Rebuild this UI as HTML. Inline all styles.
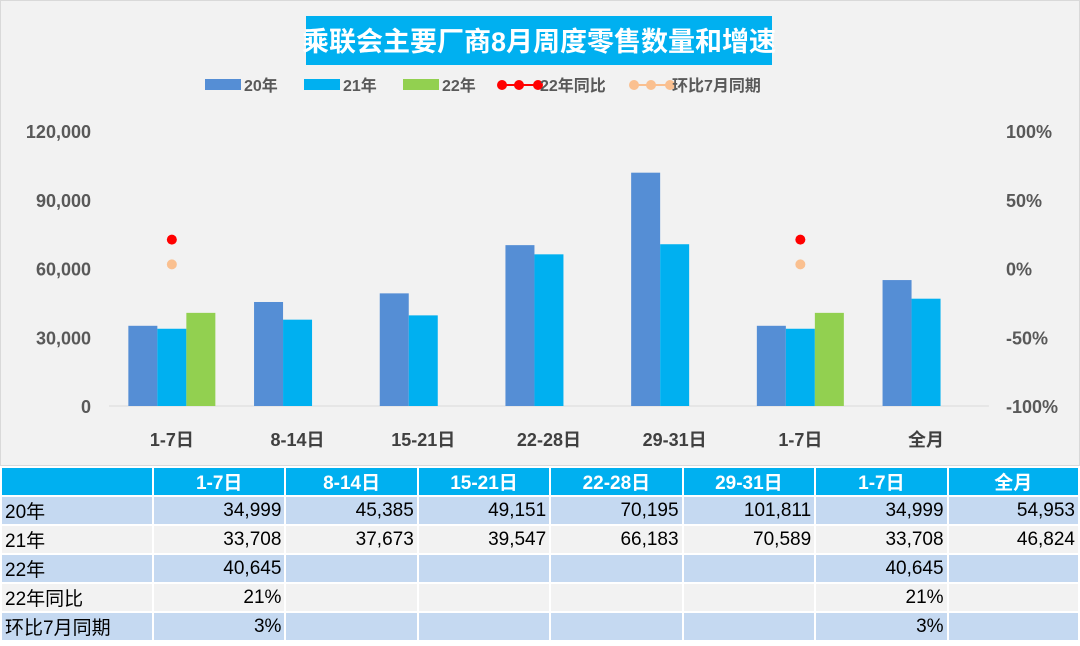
<!DOCTYPE html>
<html><head><meta charset="utf-8"><style>
body{margin:0;width:1080px;height:646px;background:#fff;font-family:"Liberation Sans","Noto Sans CJK SC",sans-serif;overflow:hidden}
#chart{position:absolute;left:0;top:0;width:1078px;height:464px;background:#f2f2f2;border:1px solid #d9d9d9}
table{position:absolute;left:0;top:466px;border-collapse:collapse;font-size:19px}
td{border:2px solid #fff;height:26px;padding:0 3px;text-align:right;color:#000}
tr.h td{background:#00b0f0;color:#fff;font-weight:bold;text-align:center}
tr.b td{background:#c5d9f1}
tr.g td{background:#f2f2f2}
td.l{text-align:left}
</style></head><body>
<svg id="chart" width="1080" height="465" xmlns="http://www.w3.org/2000/svg">
<rect x="305" y="15" width="466" height="49" fill="#00b0f0"/>
<text x="538" y="50" text-anchor="middle" font-size="27" font-weight="bold" fill="#fff" font-family="Liberation Sans,Noto Sans CJK SC,sans-serif">乘联会主要厂商8月周度零售数量和增速</text>
<g id="legend" font-size="16" font-weight="bold" fill="#595959" font-family="Liberation Sans,Noto Sans CJK SC,sans-serif">
<g><rect x="204" y="78" width="36" height="11" fill="#558ed5"/><text x="243" y="90">20年</text></g>
<g><rect x="303" y="78" width="36" height="11" fill="#00b0f0"/><text x="342" y="90">21年</text></g>
<g><rect x="402" y="78" width="36" height="11" fill="#92d050"/><text x="441" y="90">22年</text></g>
<g><line x1="500" y1="84" x2="540" y2="84" stroke="#f00" stroke-width="2"/><circle cx="501" cy="84" r="5" fill="#f00"/><circle cx="518" cy="84" r="5" fill="#f00"/><circle cx="537" cy="84" r="5" fill="#f00"/><text x="539" y="90">22年同比</text></g>
<g><line x1="632" y1="84" x2="671" y2="84" stroke="#fac090" stroke-width="2"/><circle cx="633" cy="84" r="5" fill="#fac090"/><circle cx="650" cy="84" r="5" fill="#fac090"/><circle cx="669" cy="84" r="5" fill="#fac090"/><text x="671" y="90">环比7月同期</text></g>
</g>
<g id="plot"></g>
</svg>
<table>
<tr class="h"><td style="width:147px"></td><td style="width:126px">1-7日</td><td style="width:126px">8-14日</td><td style="width:126px">15-21日</td><td style="width:126px">22-28日</td><td style="width:126px">29-31日</td><td style="width:126px">1-7日</td><td style="width:125px">全月</td></tr>
<tr class="b"><td class="l">20年</td><td>34,999</td><td>45,385</td><td>49,151</td><td>70,195</td><td>101,811</td><td>34,999</td><td>54,953</td></tr>
<tr class="g"><td class="l">21年</td><td>33,708</td><td>37,673</td><td>39,547</td><td>66,183</td><td>70,589</td><td>33,708</td><td>46,824</td></tr>
<tr class="b"><td class="l">22年</td><td>40,645</td><td></td><td></td><td></td><td></td><td>40,645</td><td></td></tr>
<tr class="g"><td class="l">22年同比</td><td>21%</td><td></td><td></td><td></td><td></td><td>21%</td><td></td></tr>
<tr class="b"><td class="l">环比7月同期</td><td>3%</td><td></td><td></td><td></td><td></td><td>3%</td><td></td></tr>
</table>
<script>
const categories=["1-7日","8-14日","15-21日","22-28日","29-31日","1-7日","全月"];
const s20=[34999,45385,49151,70195,101811,34999,54953];
const s21=[33708,37673,39547,66183,70589,33708,46824];
const s22=[40645,null,null,null,null,40645,null];
const yoy=[0.21,null,null,null,null,0.21,null];
const mom=[0.03,null,null,null,null,0.03,null];
const leftTicks=[0,30000,60000,90000,120000];
const rightTicks=[-1,-0.5,0,0.5,1];
const NS="http://www.w3.org/2000/svg";
const g=document.getElementById('plot');
const x0=108,bw=125.7,yTop=130,yBot=405;
const yL=v=>yBot-(v/120000)*(yBot-yTop);
const yR=v=>yBot-((v+1)/2)*(yBot-yTop);
const cx=i=>x0+bw*(i+0.5);
function mk(t,a){const e=document.createElementNS(NS,t);for(const k in a)e.setAttribute(k,a[k]);g.appendChild(e);return e;}
let ax=mk('line',{x1:x0,x2:x0+bw*7,y1:yBot,y2:yBot,stroke:'#d9d9d9'});


leftTicks.forEach(v=>{const t=mk('text',{x:90,y:yL(v)+7,'text-anchor':'end','font-size':18,'font-weight':'bold',fill:'#595959'});t.textContent=v.toLocaleString('en-US');

});
rightTicks.forEach(v=>{const t=mk('text',{x:1005,y:yR(v)+7,'font-size':18,'font-weight':'bold',fill:'#595959'});t.textContent=Math.round(v*100)+'%';

});
categories.forEach((c,i)=>{const t=mk('text',{x:cx(i),y:445,'text-anchor':'middle','font-size':18,'font-weight':'bold',fill:'#404040'});t.textContent=c;

});
const series=[[s20,'#558ed5','bar-20'],[s21,'#00b0f0','bar-21'],[s22,'#92d050','bar-22']];
const w=29;
series.forEach(([arr,col,name],k)=>arr.forEach((v,i)=>{if(v==null)return;const r=mk('rect',{x:cx(i)-43.5+k*w,y:yL(v),width:w,height:yBot-yL(v),fill:col});

}));
[[yoy,'#ff0000','point-yoy'],[mom,'#fac090','point-mom']].forEach(([arr,col,name])=>arr.forEach((v,i)=>{if(v==null)return;const c=mk('circle',{cx:cx(i),cy:yR(v),r:5,fill:col});

}));
</script>
</body></html>
